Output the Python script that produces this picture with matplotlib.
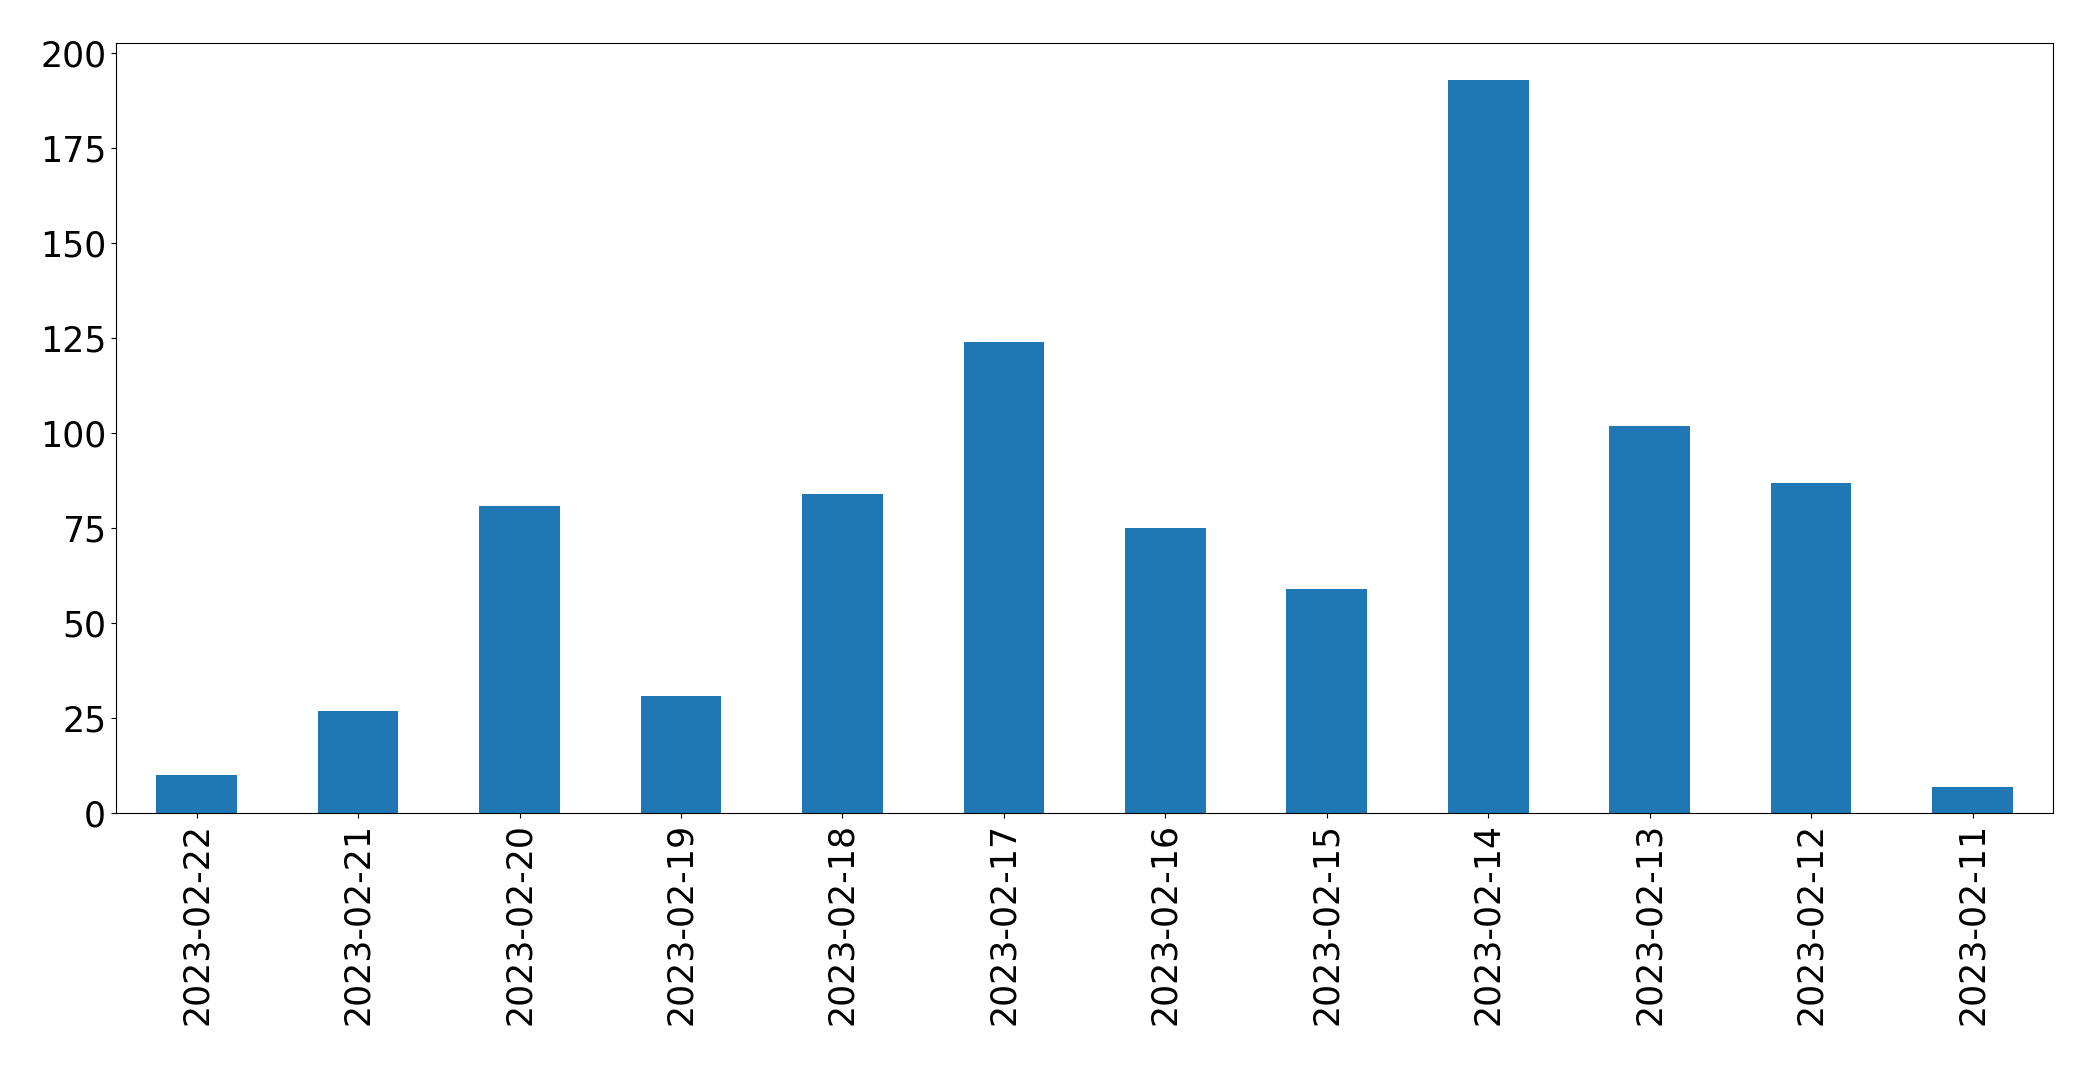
import matplotlib.pyplot as plt
import pandas as pd

dates = ["2023-02-22", "2023-02-21", "2023-02-20", "2023-02-19", "2023-02-18", "2023-02-17",
         "2023-02-16", "2023-02-15", "2023-02-14", "2023-02-13", "2023-02-12", "2023-02-11"]
counts = [10, 27, 81, 31, 84, 124, 75, 59, 193, 102, 87, 7]

s = pd.Series(counts, index=dates)

fig = plt.figure(figsize=(20.93, 10.65), dpi=100)
ax = fig.add_axes([0.0554, 0.2363, 0.9256, 0.723])
s.plot(kind="bar", ax=ax, color="#1f77b4", fontsize=25)
ax.tick_params(axis="both", labelsize=25)

fig.savefig("out.png", dpi=100)
